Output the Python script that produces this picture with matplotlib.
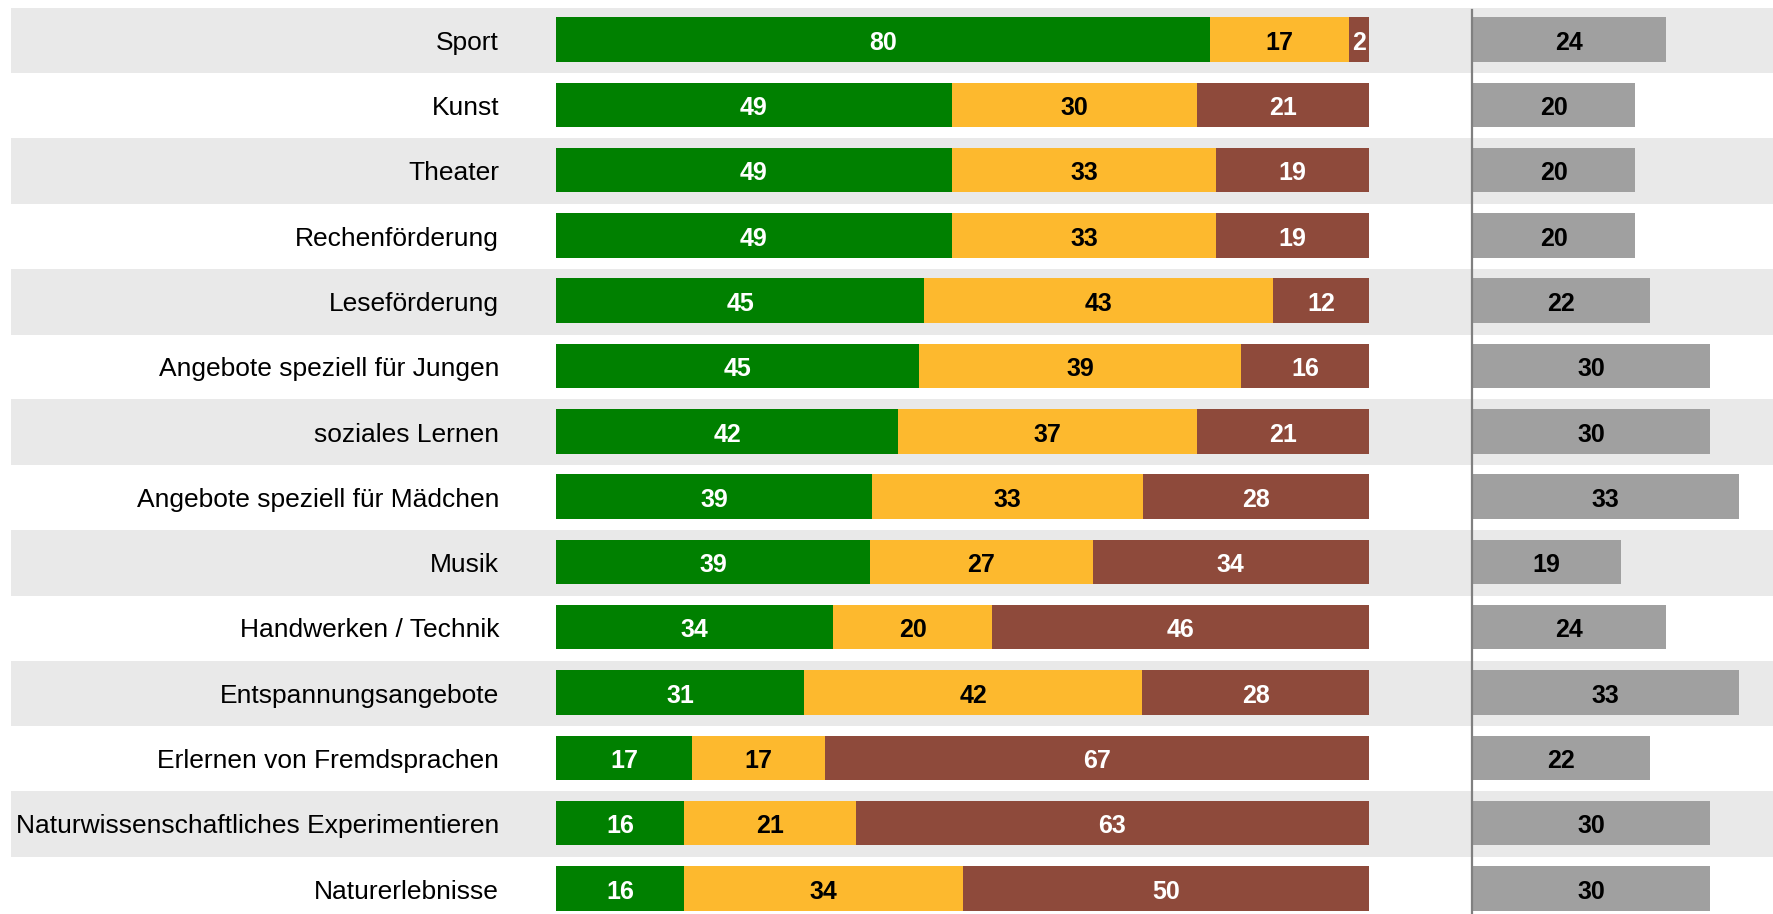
import matplotlib
matplotlib.use("Agg")
import matplotlib.pyplot as plt

plt.rcParams["font.family"] = ["Liberation Sans", "DejaVu Sans"]

categories = [
    "Sport", "Kunst", "Theater", "Rechenförderung", "Leseförderung",
    "Angebote speziell für Jungen", "soziales Lernen",
    "Angebote speziell für Mädchen", "Musik", "Handwerken / Technik",
    "Entspannungsangebote", "Erlernen von Fremdsprachen",
    "Naturwissenschaftliches Experimentieren", "Naturerlebnisse",
]
# printed (rounded) percentages
green_vals = [80, 49, 49, 49, 45, 45, 42, 39, 39, 34, 31, 17, 16, 16]
yellow_vals = [17, 30, 33, 33, 43, 39, 37, 33, 27, 20, 42, 17, 21, 34]
red_vals = [2, 21, 19, 19, 12, 16, 21, 28, 34, 46, 28, 67, 63, 50]
grey_vals = [24, 20, 20, 20, 22, 30, 30, 33, 19, 24, 33, 22, 30, 30]
# unrounded shares (red = remainder to 100)
green_share = [80.5, 48.7, 48.7, 48.7, 45.3, 44.7, 42.1, 38.9, 38.6, 34.1, 30.5, 16.7, 15.7, 15.7]
yellow_share = [17.0, 30.2, 32.5, 32.5, 42.9, 39.6, 36.7, 33.3, 27.4, 19.5, 41.6, 16.4, 21.2, 34.3]
grey_share = [23.8, 20.0, 20.0, 20.0, 21.9, 29.3, 29.3, 32.8, 18.3, 23.8, 32.8, 21.9, 29.3, 29.3]

GREEN = "#008000"
YELLOW = "#FDB92E"
RED = "#8E4A3B"
GREY = "#A0A0A0"
BAND = "#E9E9E9"

fig = plt.figure(figsize=(17.73, 9.14), dpi=100)
ax = fig.add_axes([0, 0, 1, 1])
px = 8.13  # pixels per percent
ax.set_xlim(-556 / px, (1773 - 556) / px)
pitch = 65.3
ax.set_ylim((914 - 39.5) / pitch, -39.5 / pitch)
ax.axis("off")

grey_x0 = 112.7
h = 0.68
n = len(categories)
dy = 0.05  # text sits a bit below bar centre

for i, cat in enumerate(categories):
    if i % 2 == 0:
        ax.axhspan(i - 0.49, i + 0.52, xmin=11 / 1773, xmax=1, color=BAND, lw=0, zorder=0)
    widths = [green_share[i], yellow_share[i], 100 - green_share[i] - yellow_share[i]]
    left = 0
    for w, v, col, tc in zip(widths,
                             [green_vals[i], yellow_vals[i], red_vals[i]],
                             [GREEN, YELLOW, RED],
                             ["white", "black", "white"]):
        ax.barh(i, w, left=left, height=h, color=col, lw=0, zorder=2)
        ax.text(left + w / 2, i + dy, str(v), ha="center", va="center",
                color=tc, fontsize=18, fontweight="bold", zorder=3)
        left += w
    ax.barh(i, grey_share[i], left=grey_x0, height=h, color=GREY, lw=0, zorder=2)
    ax.text(grey_x0 + grey_share[i] / 2, i + dy, str(grey_vals[i]), ha="center",
            va="center", color="black", fontsize=18, fontweight="bold", zorder=3)
    ax.text(-57 / px, i + dy, cat, ha="right", va="center", fontsize=19, color="black")

ax.plot([grey_x0 - 0.05, grey_x0 - 0.05], [-0.45, n], color="#808080", lw=1.6, zorder=4)

fig.savefig("out.png", dpi=100)
